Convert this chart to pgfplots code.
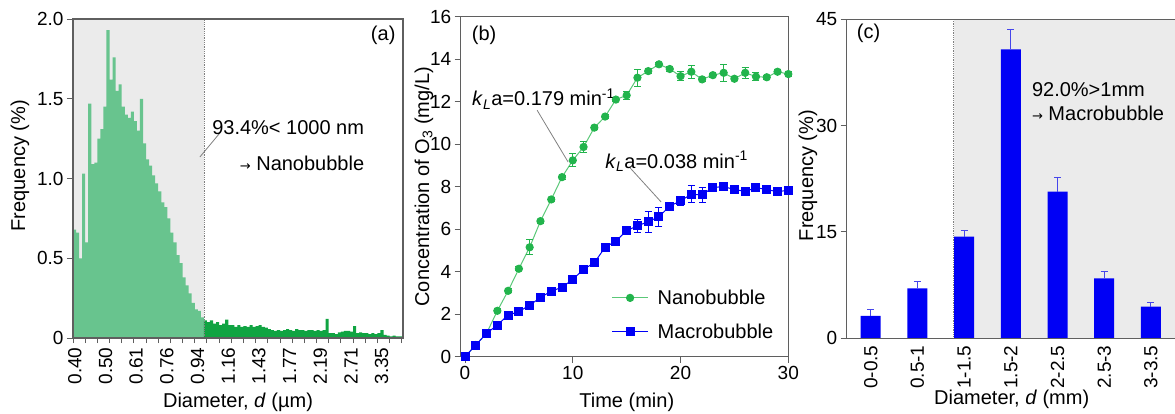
\documentclass[border=0pt]{standalone}
\usepackage{pgfplots}
\pgfplotsset{compat=1.18}
\usepackage{fontspec}
\setmainfont{Liberation Sans}
\newfontfamily\symfont{DejaVu Sans}
\definecolor{bggray}{RGB}{235,235,235}
\definecolor{nanofill}{RGB}{104,196,142}
\definecolor{macrofill}{RGB}{16,164,66}
\definecolor{gline}{RGB}{90,200,120}
\definecolor{gmark}{RGB}{34,180,76}
\definecolor{bblue}{RGB}{0,0,245}
\definecolor{ebblue}{RGB}{70,70,235}
\definecolor{spine}{RGB}{95,95,95}
\newcommand{\ticksize}{\fontsize{19}{19}\selectfont}
\newcommand{\labsize}{\fontsize{20}{20}\selectfont}
\pgfplotsset{
  myaxis/.style={
    scale only axis,
    anchor=south west,
    axis on top,
    axis line style={spine, line width=1.1pt},
    tick align=outside,
    xtick pos=left, ytick pos=left,
    major tick length=6pt,
    minor tick length=5pt,
    tick style={spine, line width=1pt},
    ticklabel style={font=\ticksize},
    label style={font=\labsize},
    /pgf/number format/assume math mode=true,
  },
}
\pgfplotstableread{
x y
0 0.68
0.25 0.66
0.5 0.50
0.75 1.03
1.0 0.60
1.25 1.47
1.5 1.09
1.75 1.10
2.0 1.25
2.25 1.31
2.5 1.45
2.75 1.93
3.0 1.62
3.25 1.76
3.5 1.55
3.75 1.59
4.0 1.45
4.25 1.40
4.5 1.38
4.75 1.42
5.0 1.36
5.25 1.30
5.5 1.50
5.75 1.22
6.0 1.12
6.25 1.08
6.5 1.02
6.75 0.97
7.0 0.92
7.25 0.85
7.5 0.82
7.75 0.75
8.0 0.66
8.25 0.60
8.5 0.52
8.75 0.47
9.0 0.38
9.25 0.33
9.5 0.28
9.75 0.22
10.0 0.18
10.25 0.17
10.5 0.13
10.75 0.13
}\nanodata
\pgfplotstableread{
x y
10.75 0.11
11.0 0.10
11.25 0.11
11.5 0.09
11.75 0.10
12.0 0.08
12.25 0.09
12.5 0.115
12.75 0.08
13.0 0.08
13.25 0.07
13.5 0.08
13.75 0.07
14.0 0.075
14.25 0.07
14.5 0.08
14.75 0.07
15.0 0.075
15.25 0.08
15.5 0.07
15.75 0.065
16.0 0.055
16.25 0.05
16.5 0.045
16.75 0.05
17.0 0.045
17.25 0.05
17.5 0.055
17.75 0.05
18.0 0.045
18.25 0.055
18.5 0.05
18.75 0.05
19.0 0.045
19.25 0.05
19.5 0.05
19.75 0.045
20.0 0.05
20.25 0.045
20.5 0.05
20.75 0.12
21.0 0.03
21.25 0.03
21.5 0.025
21.75 0.035
22.0 0.04
22.25 0.045
22.5 0.045
22.75 0.04
23.0 0.075
23.25 0.03
23.5 0.035
23.75 0.03
24.0 0.03
24.25 0.025
24.5 0.03
24.75 0.025
25.0 0.03
25.25 0.05
25.5 0.02
25.75 0.015
26.0 0.01
26.25 0.015
26.5 0.01
26.75 0.01
27.1 0.01
}\macrodata
\pgfplotstableread{
t g ge b be
0 0 0 0 0
1 0.55 0 0.55 0
2 1.10 0 1.10 0
3 2.16 0.1 1.49 0.1
4 3.10 0.1 1.96 0.1
5 4.14 0.1 2.12 0.1
6 5.15 0.35 2.43 0.1
7 6.38 0.1 2.78 0.1
8 7.40 0.1 3.09 0.1
9 8.45 0.1 3.26 0.1
10 9.24 0.3 3.64 0.1
11 9.87 0.25 4.11 0.1
12 10.78 0.1 4.42 0.1
13 11.30 0.1 5.15 0.1
14 12.10 0.1 5.44 0.1
15 12.30 0.2 5.93 0.1
16 13.13 0.4 6.16 0.3
17 13.44 0.1 6.35 0.5
18 13.76 0.1 6.59 0.45
19 13.54 0.1 7.09 0.1
20 13.20 0.2 7.33 0.2
21 13.41 0.3 7.65 0.4
22 13.05 0.1 7.61 0.35
23 13.25 0.1 7.97 0.1
24 13.36 0.4 8.00 0.1
25 13.08 0.1 7.87 0.1
26 13.36 0.25 7.78 0.1
27 13.18 0.2 7.95 0.1
28 13.15 0.1 7.87 0.1
29 13.41 0.1 7.76 0.1
30 13.30 0.1 7.84 0.1
}\datab
\pgfplotstableread{
x y e
0 3.15 0.94
1 7.05 0.95
2 14.34 0.85
3 40.76 2.82
4 20.69 1.97
5 8.46 0.94
6 4.47 0.61
}\datac
\begin{document}
\begin{tikzpicture}
\path[use as bounding box] (0pt,0pt) rectangle (1175pt,413pt);
% ---------------- (a)
\begin{axis}[myaxis,
  at={(73pt,75pt)}, width=330pt, height=319pt,
  xmin=0, xmax=27.1, ymin=0, ymax=2,
  ytick={0,0.5,1,1.5,2}, yticklabels={0,0.5,1.0,1.5,2.0},
  xtick={0.15,2.67,5.19,7.71,10.23,12.75,15.27,17.79,20.31,22.83,25.35},
  xticklabels={0.40,0.50,0.61,0.76,0.94,1.16,1.43,1.77,2.19,2.71,3.35},
  major x tick style={draw=none},
  minor xtick={0,1,...,27},
  xticklabel style={rotate=90, anchor=east},
  xlabel={Diameter, \textit{d} (µm)},
  ylabel={Frequency (\%)},
  xlabel style={at={(rel axis cs:0.5,-0.2006)}, anchor=center},
  ylabel style={at={(rel axis cs:-0.1606,0.54)}, anchor=center},
]
\fill[bggray] (axis cs:0,0) rectangle (axis cs:10.75,2);
\addplot[const plot mark left, fill=nanofill, draw=none] table[x=x,y=y] {\nanodata} \closedcycle;
\addplot[const plot mark left, fill=macrofill, draw=none] table[x=x,y=y] {\macrodata} \closedcycle;
\draw[densely dotted, gray, line width=0.8pt] (axis cs:10.75,0) -- (axis cs:10.75,2);
\draw[gray, line width=0.8pt] (axis cs:10.42,1.135) -- (axis cs:12.06,1.285);
\node[font=\labsize] at (rel axis cs:0.652,0.658) {93.4\%< 1000 nm};
\node[font=\labsize] at (rel axis cs:0.694,0.549) {{\symfont\fontsize{13}{13}\selectfont →} Nanobubble};
\node[font=\labsize] at (rel axis cs:0.94,0.95) {(a)};
\end{axis}
% ---------------- (b)
\begin{axis}[myaxis,
  at={(460.7pt,56.3pt)}, width=327.6pt, height=340pt,
  xmin=-0.4, xmax=30, ymin=0, ymax=16,
  xtick={0,10,20,30}, ytick={0,2,...,16},
  clip=false,
  xlabel={Time (min)},
  ylabel={Concentration of O\textsubscript{3} (mg/L)},
  xlabel style={at={(rel axis cs:0.507,-0.135)}, anchor=center},
  ylabel style={at={(rel axis cs:-0.112,0.5)}, anchor=center},
  legend style={at={(rel axis cs:0.46,0.123)}, anchor=west, draw=none, fill=none,
    font=\labsize, row sep=14pt, inner sep=0pt,
    /tikz/every odd column/.append style={column sep=7pt}},
  legend cell align=left,
  legend image code/.code={\draw[mark repeat=2,mark phase=2,#1] plot coordinates {(0pt,0pt) (18pt,0pt) (36pt,0pt)};},
]
\addplot[gline, line width=1pt, mark=*, mark size=3.6pt,
  mark options={draw=gmark, fill=gmark},
  error bars/.cd, y dir=both, y explicit,
  error bar style={gmark, line width=1pt},
  error mark options={rotate=90, mark size=3.5pt, gmark, line width=1pt}]
  table[x=t, y=g, y error=ge] {\datab};
\addlegendentry{Nanobubble}
\addplot[bblue, line width=1pt, mark=square*, mark size=4pt,
  mark options={draw=bblue, fill=bblue},
  error bars/.cd, y dir=both, y explicit,
  error bar style={bblue, line width=1pt},
  error mark options={rotate=90, mark size=3.5pt, bblue, line width=1pt}]
  table[x=t, y=b, y error=be] {\datab};
\addlegendentry{Macrobubble}
\draw[gray, line width=0.8pt] (axis cs:6.69,11.6) -- (axis cs:9.57,9.16);
\draw[gray, line width=0.8pt] (axis cs:15.33,8.88) -- (axis cs:18.2,7.28);
\node[font=\labsize, anchor=west, inner sep=0pt] at (axis cs:0.62,15.1) {(b)};
\node[font=\labsize, anchor=west, inner sep=0pt] at (axis cs:0.65,12.13) {\textit{k}\textsubscript{\textit{L}}a=0.179 min\textsuperscript{-1}};
\node[font=\labsize, anchor=west, inner sep=0pt] at (axis cs:13.0,9.21) {\textit{k}\textsubscript{\textit{L}}a=0.038 min\textsuperscript{-1}};
\end{axis}
% ---------------- (c)
\begin{axis}[myaxis,
  at={(846.7pt,74.7pt)}, width=329.3pt, height=319pt,
  xmin=-0.514, xmax=6.537, ymin=0, ymax=45,
  ytick={0,15,30,45},
  xtick={0,...,6}, xticklabels={0-0.5,0.5-1,1-1.5,1.5-2,2-2.5,2.5-3,3-3.5},
  major x tick style={draw=none},
  xticklabel style={rotate=90, anchor=east, inner sep=1pt},
  xlabel={Diameter, \textit{d} (mm)},
  ylabel={Frequency (\%)},
  xlabel style={at={(rel axis cs:0.501,-0.19)}, anchor=center},
  ylabel style={at={(rel axis cs:-0.1175,0.51)}, anchor=center},
]
\fill[bggray] (axis cs:1.78,0) rectangle (axis cs:6.537,45);
\draw[densely dotted, gray, line width=0.8pt] (axis cs:1.78,0) -- (axis cs:1.78,45);
\addplot[ybar, bar width=20pt, fill=bblue, draw=none,
  error bars/.cd, y dir=plus, y explicit,
  error bar style={ebblue, line width=1pt},
  error mark options={rotate=90, mark size=3.5pt, ebblue, line width=1pt}]
  table[x=x, y=y, y error=e] {\datac};
\node[font=\labsize, anchor=west, inner sep=0pt] at (axis cs:-0.30,43.0) {(c)};
\node[font=\labsize, anchor=west, inner sep=0pt] at (axis cs:3.45,35.1) {92.0\%>1mm};
\node[font=\labsize, anchor=west, inner sep=0pt] at (axis cs:3.45,31.7) {{\symfont\fontsize{13}{13}\selectfont →} Macrobubble};
\end{axis}
\end{tikzpicture}
\end{document}
